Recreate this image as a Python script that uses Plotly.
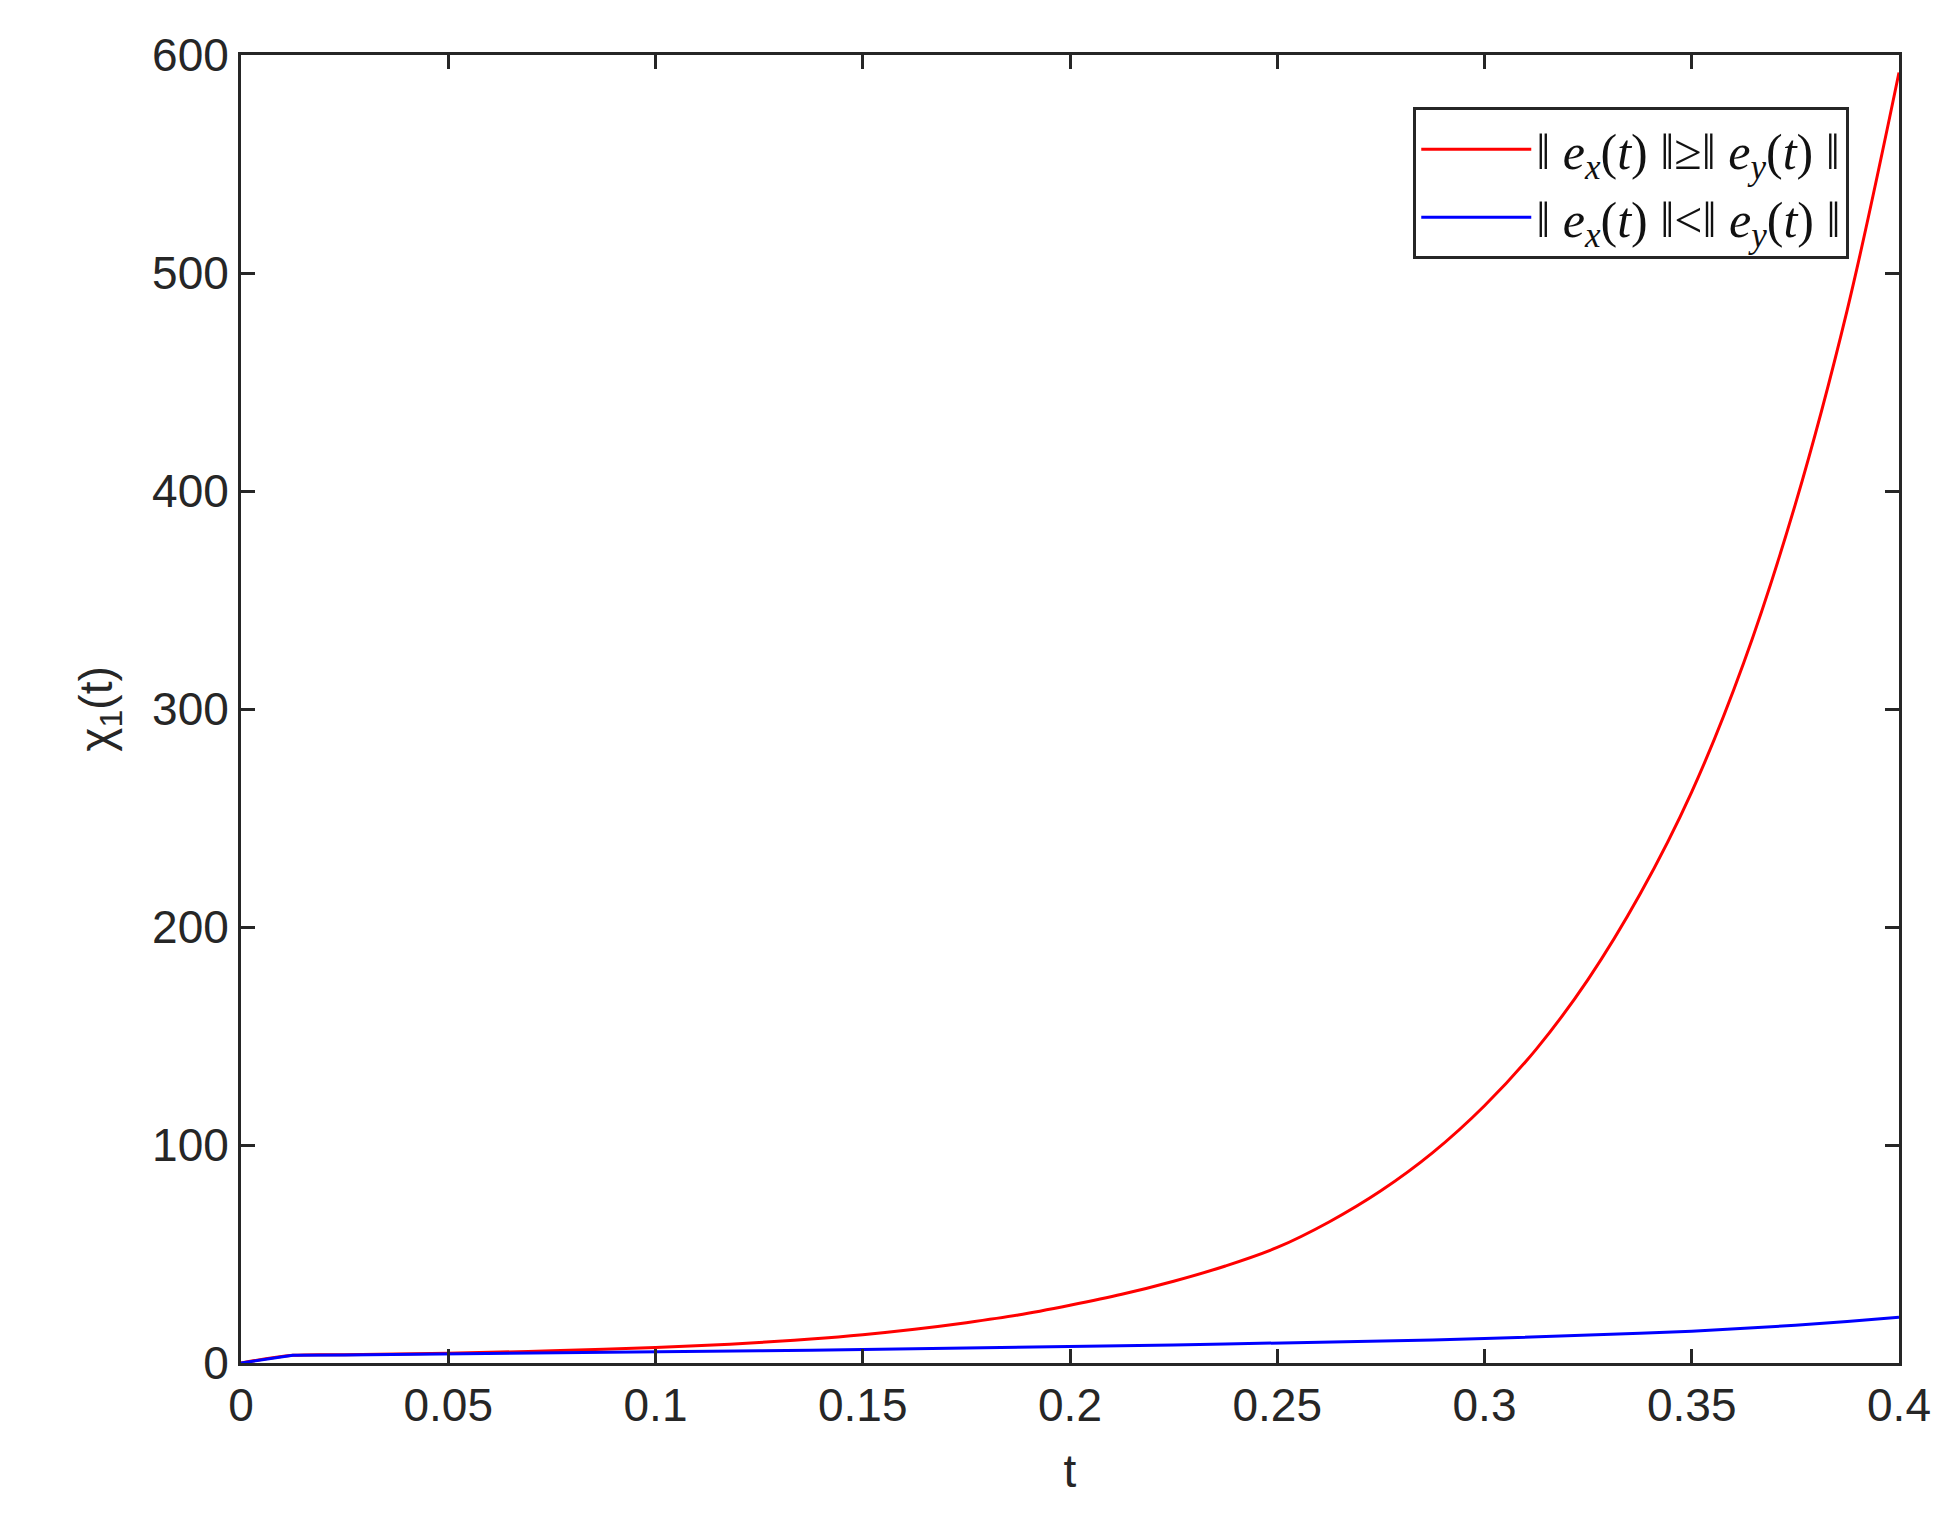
import plotly.graph_objects as go

t = [0, 0.0125, 0.025, 0.0375, 0.05, 0.0625, 0.075, 0.0875, 0.1, 0.1125, 0.125, 0.1375, 0.15,
     0.1625, 0.175, 0.1875, 0.2, 0.2125, 0.225, 0.2375, 0.25, 0.2625, 0.275, 0.2875, 0.3,
     0.3125, 0.325, 0.3375, 0.35, 0.3625, 0.375, 0.3875, 0.4]
red = [0, 3.5, 3.8, 4.1, 4.5, 5.0, 5.6, 6.3, 7.1, 8.1, 9.4, 11.0, 13.0,
       15.5, 18.5, 22.0, 26.5, 31.5, 37.5, 44.5, 53.0, 64.7, 79.0, 96.5, 118.0,
       144.0, 176.0, 215.0, 262.0, 321.0, 394.0, 483.0, 592.0]
blue = [0, 3.5, 3.7, 3.9, 4.1, 4.3, 4.5, 4.8, 5.0, 5.3, 5.6, 5.9, 6.2,
        6.5, 6.8, 7.1, 7.5, 7.9, 8.3, 8.7, 9.1, 9.6, 10.1, 10.6, 11.2,
        11.9, 12.7, 13.6, 14.6, 15.8, 17.3, 19.0, 21.0]

xticks = [0, 0.05, 0.1, 0.15, 0.2, 0.25, 0.3, 0.35, 0.4]
xticklabels = ["0", "0.05", "0.1", "0.15", "0.2", "0.25", "0.3", "0.35", "0.4"]
yticks = [0, 100, 200, 300, 400, 500, 600]

lab1 = "‖ <i>e</i><sub><i>x</i></sub>(<i>t</i>) ‖≥‖ <i>e</i><sub><i>y</i></sub>(<i>t</i>) ‖"
lab2 = "‖ <i>e</i><sub><i>x</i></sub>(<i>t</i>) ‖<‖ <i>e</i><sub><i>y</i></sub>(<i>t</i>) ‖"

fig = go.Figure()
fig.add_trace(go.Scatter(x=t, y=red, mode="lines", line=dict(color="#ff0000", width=3, shape="spline"), name=lab1))
fig.add_trace(go.Scatter(x=t, y=blue, mode="lines", line=dict(color="#0000ff", width=3), name=lab2))

axcommon = dict(showgrid=False, zeroline=False, showline=True, linecolor="#262626", linewidth=3,
                mirror="ticks", ticks="inside", ticklen=14, tickwidth=3, tickcolor="#262626",
                tickfont=dict(family="Liberation Sans, Arial", size=46, color="#262626"))
fig.update_xaxes(range=[0, 0.4], tickvals=xticks, ticktext=xticklabels,
                 title=dict(text="t", font=dict(family="Liberation Sans, Arial", size=46, color="#262626"), standoff=25),
                 **axcommon)
fig.update_yaxes(range=[0, 600], tickvals=yticks,
                 title=dict(text="χ<sub>1</sub>(t)", font=dict(family="Liberation Sans, Arial", size=46, color="#262626"), standoff=25),
                 **axcommon)
fig.update_layout(
    width=1949, height=1516, plot_bgcolor="white", paper_bgcolor="white",
    margin=dict(l=233, r=58, t=47, b=161),
    legend=dict(x=0.97, y=0.96, xanchor="right", yanchor="top", bordercolor="#262626", borderwidth=3,
                bgcolor="white", font=dict(family="Liberation Serif, DejaVu Serif", size=50, color="#111"),
                itemwidth=110, tracegroupgap=0),
    showlegend=True,
)
fig.write_html("out.html")
